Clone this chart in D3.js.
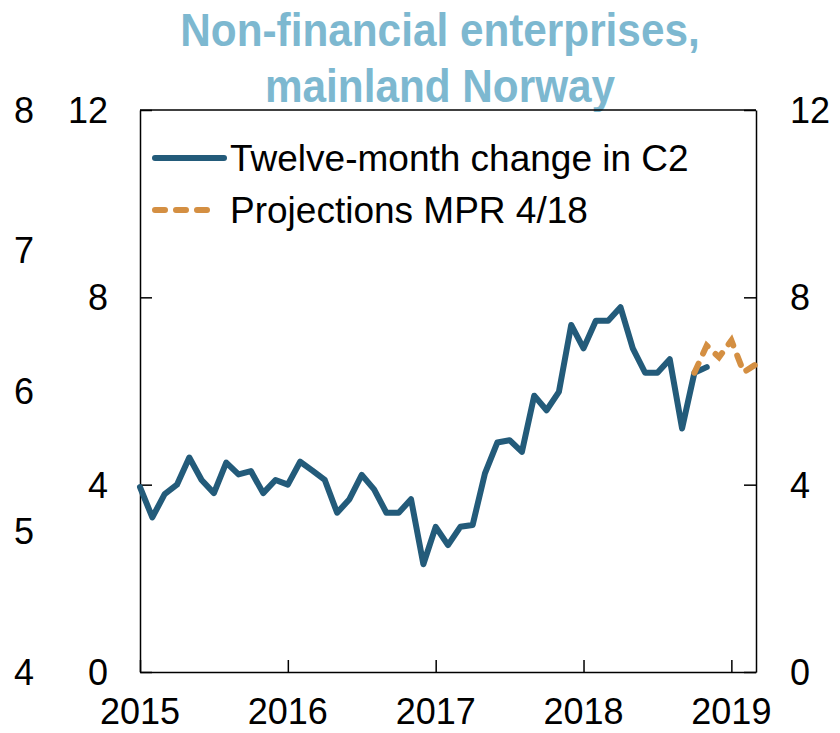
<!DOCTYPE html>
<html lang="en">
	<head>
		<meta charset="utf-8">
		<title>Non-financial enterprises, mainland Norway</title>
		<script type="text/javascript" src="https://cdn.jsdelivr.net/npm/d3@7"></script>
		<style>
			body { margin: 0; background: #fff; }
			text { font-family: "Liberation Sans", Arial, sans-serif; fill: #000; }
		</style>
	</head>
	<body>
		<script type="text/javascript">

			// monthly, Jan 2015 .. Mar 2019
			var months = d3.timeMonth.range(new Date(2015, 0, 1), new Date(2019, 3, 1));
			var years = ["2015", "2016", "2017", "2018", "2019"];

			// twelve-month change in C2, Jan 2015 .. Nov 2018
			var c2 = [
				3.95, 3.3, 3.8, 4.0, 4.58, 4.1, 3.82, 4.47, 4.22, 4.29, 3.82, 4.1,
				4.0, 4.49, 4.3, 4.1, 3.4, 3.69, 4.21, 3.9, 3.4, 3.4, 3.69, 2.3,
				3.1, 2.71, 3.1, 3.14, 4.24, 4.9, 4.95, 4.7, 5.9, 5.59, 5.98, 7.41,
				6.91, 7.5, 7.5, 7.79, 6.91, 6.39, 6.39, 6.68, 5.2, 6.39, 6.51
			];
			// projections MPR 4/18, Oct 2018 .. Mar 2019
			var projStart = 45;
			var proj = [6.39, 6.97, 6.72, 7.08, 6.4, 6.57];

			var yTicks = [0, 4, 8, 12];
			var ghostTicks = [4, 5, 6, 7, 8]; // stray left scale
			var title = ["Non-financial enterprises,", "mainland Norway"];
			var legendLabels = ["Twelve-month change in C2", "Projections MPR 4/18"];

			var blue = "#235b7a";
			var orange = "#d48f42";

			var width = 840, height = 733;
			// plot box (note: "top" is reserved on window)
			var x0 = 140, x1 = 756, y0 = 110, y1 = 672;

			var svg = d3.select("body").append("svg")
				.attr("width", width)
				.attr("height", height);

			var x = d3.scaleLinear().domain([0, months.length - 1]).range([x0, x1]);
			var y = d3.scaleLinear().domain([0, 12]).range([y1, y0]);
			var yGhost = d3.scaleLinear().domain([4, 8]).range([y1, y0]);

			// title
			svg.append("g").selectAll("text")
				.data(title)
				.enter().append("text")
					.attr("transform", (d, i) => "translate(440," + (46 + i * 56) + ") scale(0.9,1)")
					.attr("text-anchor", "middle")
					.style("font-weight", "bold")
					.style("font-size", "47px")
					.style("fill", "#7db8d0")
					.text(d => d);

			// stray left labels
			svg.append("g").selectAll("text")
				.data(ghostTicks)
				.enter().append("text")
					.attr("x", 34)
					.attr("y", d => yGhost(d))
					.attr("dy", "0.36em")
					.attr("text-anchor", "end")
					.style("font-size", "36px")
					.text(d => d);

			// left axis
			svg.append("g")
				.attr("transform", "translate(" + x0 + ",0)")
				.call(d3.axisRight(y).tickValues(yTicks).tickSize(12).tickSizeOuter(0).tickFormat(""));
			svg.append("g").selectAll("text")
				.data(yTicks)
				.enter().append("text")
					.attr("x", 108)
					.attr("y", d => y(d))
					.attr("dy", "0.36em")
					.attr("text-anchor", "end")
					.style("font-size", "36px")
					.text(d => d);

			// right axis
			svg.append("g")
				.attr("transform", "translate(" + x1 + ",0)")
				.call(d3.axisLeft(y).tickValues(yTicks).tickSize(12).tickSizeOuter(0).tickFormat(""));
			svg.append("g").selectAll("text")
				.data(yTicks)
				.enter().append("text")
					.attr("x", 790)
					.attr("y", d => y(d))
					.attr("dy", "0.36em")
					.attr("text-anchor", "start")
					.style("font-size", "36px")
					.text(d => d);

			// bottom axis
			svg.append("g")
				.attr("transform", "translate(0," + y1 + ")")
				.call(d3.axisTop(x).tickValues(years.map((d, i) => i * 12)).tickSize(12).tickSizeOuter(0).tickFormat(""));
			svg.append("g").selectAll("text")
				.data(years)
				.enter().append("text")
					.attr("x", (d, i) => x(i * 12))
					.attr("y", 724)
					.attr("text-anchor", "middle")
					.style("font-size", "36px")
					.text(d => d);

			// top frame
			svg.append("line")
				.attr("x1", x0).attr("x2", x1)
				.attr("y1", y0).attr("y2", y0)
				.attr("stroke", "#000")
				.attr("stroke-width", 1.5);

			svg.selectAll(".domain").attr("stroke", "#000").attr("stroke-width", 1.5);
			svg.selectAll(".tick line").attr("stroke", "#000").attr("stroke-width", 1.5);

			var line = d3.line()
				.x(d => x(d.i))
				.y(d => y(d.v));

			svg.append("path")
				.datum(c2.map((v, i) => ({i: i, v: v})))
				.attr("fill", "none")
				.attr("stroke", blue)
				.attr("stroke-width", 6)
				.attr("stroke-linejoin", "round")
				.attr("stroke-linecap", "round")
				.attr("d", line);

			svg.append("path")
				.datum(proj.map((v, i) => ({i: projStart + i, v: v})))
				.attr("fill", "none")
				.attr("stroke", orange)
				.attr("stroke-width", 6)
				.attr("stroke-dasharray", "10,11")
				.attr("stroke-linecap", "round")
				.attr("d", line);

			// legend
			var legend = svg.append("g");
			legend.append("line")
				.attr("x1", 155).attr("x2", 224)
				.attr("y1", 158).attr("y2", 158)
				.attr("stroke", blue).attr("stroke-width", 6)
				.attr("stroke-linecap", "round");
			legend.append("line")
				.attr("x1", 155).attr("x2", 218)
				.attr("y1", 210).attr("y2", 210)
				.attr("stroke", orange).attr("stroke-width", 6)
				.attr("stroke-dasharray", "10,11")
				.attr("stroke-linecap", "round");
			legend.selectAll("text")
				.data(legendLabels)
				.enter().append("text")
					.attr("x", 230)
					.attr("y", (d, i) => 158 + i * 52)
					.attr("dy", "0.36em")
					.style("font-size", "37px")
					.text(d => d);

		</script>
	</body>
</html>
